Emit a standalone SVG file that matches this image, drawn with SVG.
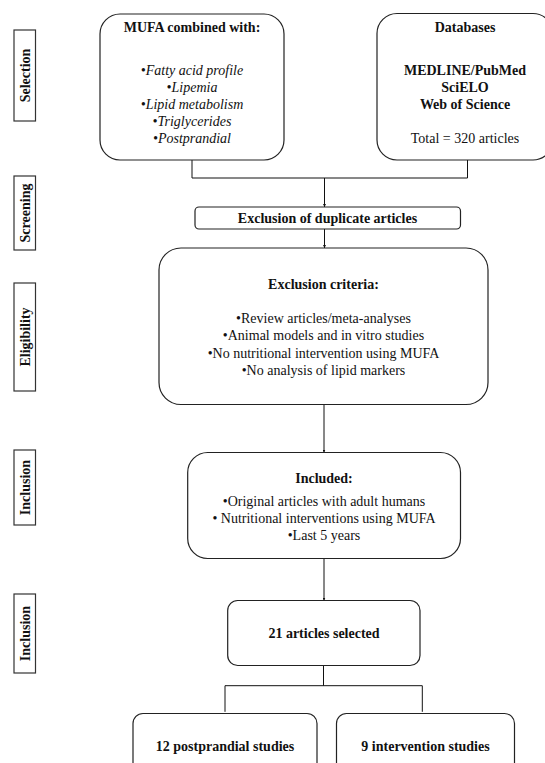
<svg xmlns="http://www.w3.org/2000/svg" width="545" height="763" viewBox="0 0 545 763">
<defs>
<style>
.box{fill:#fff;stroke:#222;stroke-width:1.2}
.side{fill:#fff;stroke:#333;stroke-width:1.2}
.t{font-family:"Liberation Serif","Times New Roman",serif;font-size:14px;fill:#111;text-anchor:middle}
.b{font-weight:bold}
.i{font-style:italic}
.c{fill:none;stroke:#111;stroke-width:1}
</style>
<marker id="arr" viewBox="0 0 6 6" refX="6" refY="3" markerWidth="3" markerHeight="3" orient="auto" markerUnits="userSpaceOnUse">
<path d="M0,0 L6,3 L0,6 z" fill="#111"/>
</marker>
</defs>
<rect width="545" height="763" fill="#fff"/>

<g id="side-labels">
<g id="lbl-selection"><rect class="side" x="14" y="30" width="21.5" height="91"/><text class="t b" transform="translate(30,75.5) rotate(-90)">Selection</text></g>
<g id="lbl-screening"><rect class="side" x="14" y="176" width="21.5" height="74"/><text class="t b" transform="translate(30,213) rotate(-90)">Screening</text></g>
<g id="lbl-eligibility"><rect class="side" x="14" y="283" width="21.5" height="108"/><text class="t b" transform="translate(30,337) rotate(-90)">Eligibility</text></g>
<g id="lbl-inclusion1"><rect class="side" x="14" y="450" width="21.5" height="75"/><text class="t b" transform="translate(30,487.5) rotate(-90)">Inclusion</text></g>
<g id="lbl-inclusion2"><rect class="side" x="14" y="594" width="21.5" height="79"/><text class="t b" transform="translate(30,633.5) rotate(-90)">Inclusion</text></g>
</g>

<g id="connectors">
<path class="c" d="M192,160 V178 H467.5 V160"/>
<path class="c" d="M324.5,178 V207" marker-end="url(#arr)"/>
<path class="c" d="M324.5,229 V248" marker-end="url(#arr)"/>
<path class="c" d="M324,404.5 V452.5" marker-end="url(#arr)"/>
<path class="c" d="M324,558.5 V600.5" marker-end="url(#arr)"/>
<path class="c" d="M323.5,665.5 V685.7 M225,711.8 V685.7 H422.3 V711.8"/>
</g>

<g id="mufa">
<rect class="box" x="100" y="14" width="184" height="146" rx="20"/>
<text class="t b" x="192" y="32">MUFA combined with:</text>
<text class="t i" x="192" y="75">•Fatty acid profile</text>
<text class="t i" x="192" y="92">•Lipemia</text>
<text class="t i" x="192" y="109">•Lipid metabolism</text>
<text class="t i" x="192" y="126">•Triglycerides</text>
<text class="t i" x="192" y="143">•Postprandial</text>
</g>

<g id="databases">
<rect class="box" x="377" y="13.5" width="176" height="146.5" rx="20"/>
<text class="t b" x="465" y="32">Databases</text>
<text class="t b" x="465" y="75">MEDLINE/PubMed</text>
<text class="t b" x="465" y="92">SciELO</text>
<text class="t b" x="465" y="109">Web of Science</text>
<text class="t" x="465" y="143">Total = 320 articles</text>
</g>

<g id="duplicates">
<rect class="box" x="195" y="207" width="265.5" height="22" rx="4"/>
<text class="t b" x="327.5" y="223">Exclusion of duplicate articles</text>
</g>

<g id="exclusion">
<rect class="box" x="159" y="248" width="329" height="156.5" rx="22"/>
<text class="t b" x="323.5" y="289">Exclusion criteria:</text>
<text class="t" x="323.5" y="323">•Review articles/meta-analyses</text>
<text class="t" x="323.5" y="340">•Animal models and in vitro studies</text>
<text class="t" x="323.5" y="357.5">•No nutritional intervention using MUFA</text>
<text class="t" x="323.5" y="375">•No analysis of lipid markers</text>
</g>

<g id="included">
<rect class="box" x="187.7" y="452.5" width="272.8" height="106" rx="20"/>
<text class="t b" x="324" y="483">Included:</text>
<text class="t" x="324" y="505.5">•Original articles with adult humans</text>
<text class="t" x="324" y="523">• Nutritional interventions using MUFA</text>
<text class="t" x="324" y="540">•Last 5 years</text>
</g>

<g id="selected">
<rect class="box" x="227.7" y="600.5" width="192.3" height="65" rx="10"/>
<text class="t b" x="324" y="638">21 articles selected</text>
</g>

<g id="postprandial">
<rect class="box" x="133" y="713.5" width="184" height="60" rx="10"/>
<text class="t b" x="225" y="751">12 postprandial studies</text>
</g>

<g id="intervention">
<rect class="box" x="336.5" y="713.5" width="178" height="60" rx="10"/>
<text class="t b" x="425.5" y="751">9 intervention studies</text>
</g>
</svg>
